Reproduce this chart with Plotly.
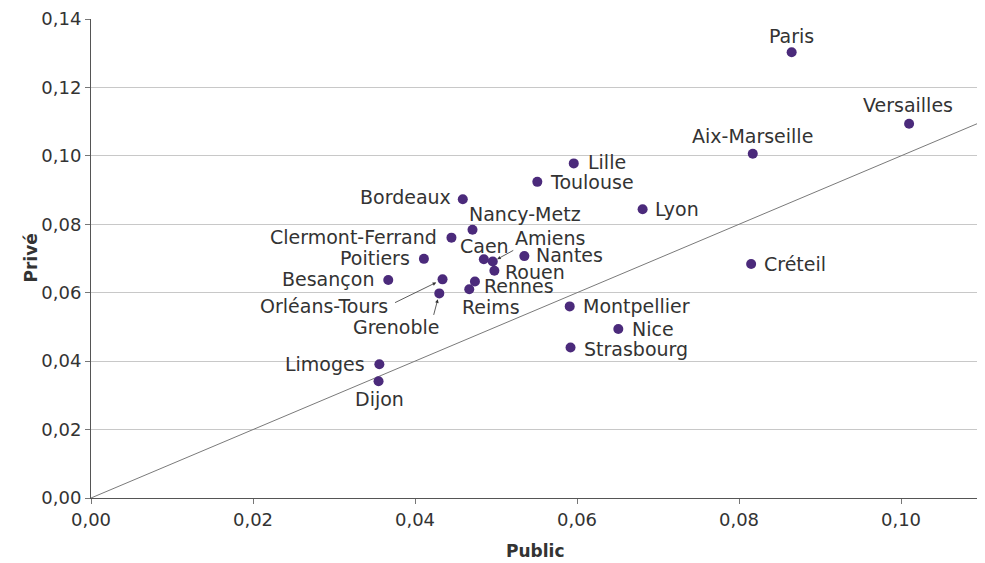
import plotly.graph_objects as go

# ---- data ----
academies = ["Paris", "Versailles", "Aix-Marseille", "Lille", "Toulouse", "Bordeaux", "Lyon",
             "Nancy-Metz", "Clermont-Ferrand", "Poitiers", "Caen", "Amiens", "Nantes", "Rouen",
             "Besançon", "Orléans-Tours", "Grenoble", "Rennes", "Reims", "Montpellier", "Nice",
             "Strasbourg", "Créteil", "Limoges", "Dijon"]
public = [0.0865, 0.1010, 0.0817, 0.0596, 0.0551, 0.0459, 0.0681,
          0.0471, 0.0445, 0.0411, 0.0485, 0.0496, 0.0535, 0.0498,
          0.0367, 0.0434, 0.0430, 0.0474, 0.0467, 0.0591, 0.0651,
          0.0592, 0.0815, 0.0356, 0.0355]
prive = [0.1303, 0.1094, 0.1006, 0.0978, 0.0924, 0.0873, 0.0844,
         0.0784, 0.0761, 0.0699, 0.0698, 0.0691, 0.0707, 0.0664,
         0.0637, 0.0639, 0.0598, 0.0633, 0.0610, 0.0560, 0.0494,
         0.0440, 0.0684, 0.0391, 0.0341]
diag_x = [0.0, 0.11]
diag_y = [0.0, 0.11]
y_ticks = [0.0, 0.02, 0.04, 0.06, 0.08, 0.10, 0.12, 0.14]
y_ticklabels = ["0,00", "0,02", "0,04", "0,06", "0,08", "0,10", "0,12", "0,14"]
x_ticks = [0.0, 0.02, 0.04, 0.06, 0.08, 0.10]
x_ticklabels = ["0,00", "0,02", "0,04", "0,06", "0,08", "0,10"]

# ---- label placement (style): anchor, xshift, yshift in px ----
placement = {
    "Paris": ("center", 0, 16), "Versailles": ("center", -1, 19), "Aix-Marseille": ("center", 0, 18),
    "Lille": ("left", 12, 1), "Toulouse": ("left", 11, 0), "Bordeaux": ("right", -10, 2),
    "Lyon": ("left", 10, 0), "Nancy-Metz": ("left", -6, 16), "Clermont-Ferrand": ("right", -12, 1),
    "Poitiers": ("right", -12, 1), "Caen": ("center", 1, 13), "Amiens": ("center", 57, 24),
    "Nantes": ("left", 10, 1), "Rouen": ("left", 9, -1), "Besançon": ("right", -12, 1),
    "Orléans-Tours": ("center", -119, -27), "Grenoble": ("center", -43, -34),
    "Rennes": ("left", 7, -5), "Reims": ("center", 22, -18), "Montpellier": ("left", 11, 0),
    "Nice": ("left", 12, 0), "Strasbourg": ("left", 11, -2), "Créteil": ("left", 11, 0),
    "Limoges": ("right", -12, 0), "Dijon": ("center", 1, -18),
}
arrows = {"Amiens": (22, -12, 5), "Orléans-Tours": (-49, 24, 7), "Grenoble": (-6, 23, 6)}

TEXT = "#333333"
FONT = "DejaVu Sans"
PAGE_OFFSET = 8  # default body margin of the html page
L, R, T, B = 91 - PAGE_OFFSET, 3, 19 - PAGE_OFFSET, 65
W, H = 985 - PAGE_OFFSET, 563 - PAGE_OFFSET
PW, PH = W - L - R, H - T - B

fig = go.Figure()
fig.add_trace(go.Scatter(x=diag_x, y=diag_y, mode="lines",
                         line=dict(color="#7a7a7a", width=1), hoverinfo="skip", showlegend=False))
fig.add_trace(go.Scatter(x=public, y=prive, mode="markers", text=academies,
                         marker=dict(size=10, color="#4b2a7b"), showlegend=False))

annotations = []
for name, xv, yv in zip(academies, public, prive):
    anc, dx, dy = placement[name]
    annotations.append(dict(x=xv, y=yv, xref="x", yref="y", text=name, showarrow=False,
                            xanchor=anc, yanchor="middle", xshift=dx, yshift=dy,
                            font=dict(family=FONT, size=19, color=TEXT)))
    if name in arrows:
        ax, ay, so = arrows[name]
        annotations.append(dict(x=xv, y=yv, xref="x", yref="y", text="", showarrow=True,
                                ax=ax, ay=ay, axref="pixel", ayref="pixel", standoff=so,
                                arrowhead=2, arrowsize=0.9, arrowwidth=0.8, arrowcolor=TEXT))

# axis titles
annotations.append(dict(xref="paper", yref="paper", x=(30 - 91) / PW, y=0.5, text="<b>Privé</b>",
                        textangle=-90, showarrow=False, xanchor="center", yanchor="middle",
                        font=dict(family=FONT, size=17, color=TEXT)))
annotations.append(dict(xref="paper", yref="paper", x=(535 - 91) / PW, y=-(551 - 498) / PH,
                        text="<b>Public</b>", showarrow=False, xanchor="center", yanchor="middle",
                        font=dict(family=FONT, size=17, color=TEXT)))

fig.update_layout(
    width=W, height=H,
    margin=dict(l=L, r=R, t=T, b=B, autoexpand=False),
    paper_bgcolor="white", plot_bgcolor="white",
    annotations=annotations,
    font=dict(family=FONT, color=TEXT),
    xaxis=dict(range=[0, 0.11], tickvals=x_ticks, ticktext=x_ticklabels, automargin=False,
               showgrid=False, zeroline=False, showline=True, linecolor="#555555", linewidth=1,
               ticks="outside", ticklen=5, tickcolor="#777777",
               tickfont=dict(family=FONT, size=18, color=TEXT)),
    yaxis=dict(range=[0, 0.14], tickvals=y_ticks, ticktext=y_ticklabels, automargin=False,
               showgrid=True, gridcolor="#c8c8c8", gridwidth=1, zeroline=False,
               showline=True, linecolor="#555555", linewidth=1,
               ticks="outside", ticklen=5, tickcolor="#777777",
               tickfont=dict(family=FONT, size=18, color=TEXT)),
)

fig.write_html("out.html")
